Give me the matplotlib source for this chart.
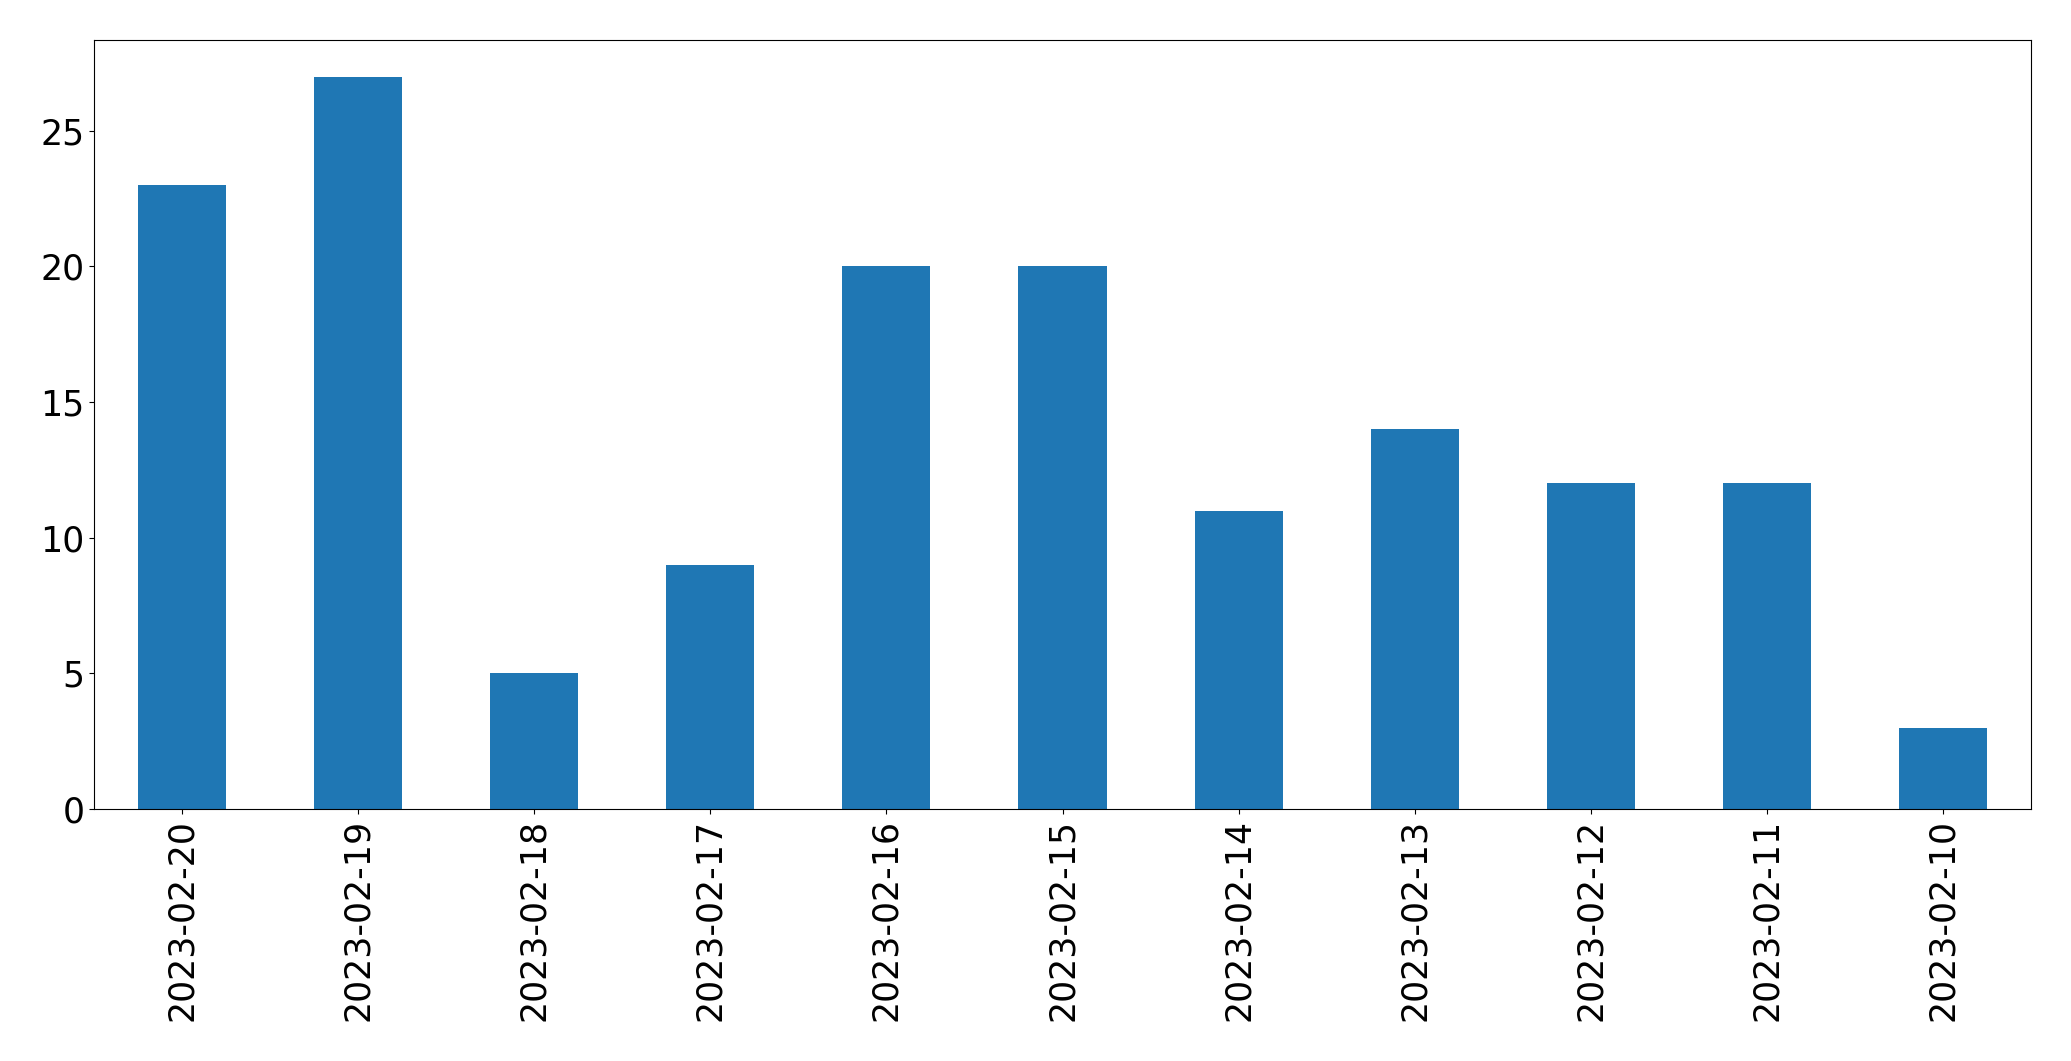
import matplotlib
matplotlib.use("Agg")
import matplotlib.pyplot as plt
import numpy as np

# counts per day
dates = ['2023-02-20', '2023-02-19', '2023-02-18', '2023-02-17', '2023-02-16',
         '2023-02-15', '2023-02-14', '2023-02-13', '2023-02-12', '2023-02-11',
         '2023-02-10']
counts = [23, 27, 5, 9, 20, 20, 11, 14, 12, 12, 3]

fig = plt.figure(figsize=(20.71, 10.61), dpi=100)
ax = fig.add_axes([94 / 2071, 1 - 809 / 1061, (2031 - 94) / 2071, (809 - 40) / 1061])

x = np.arange(len(dates))
ax.bar(x, counts, width=0.5, color='#1f77b4')
ax.set_xlim(-0.5, len(dates) - 0.5)
ax.set_ylim(0, max(counts) * 1.05)
ax.set_xticks(x)
ax.set_xticklabels(dates, rotation=90)
ax.tick_params(axis='both', labelsize=25)

fig.savefig('out.png', dpi=100)
